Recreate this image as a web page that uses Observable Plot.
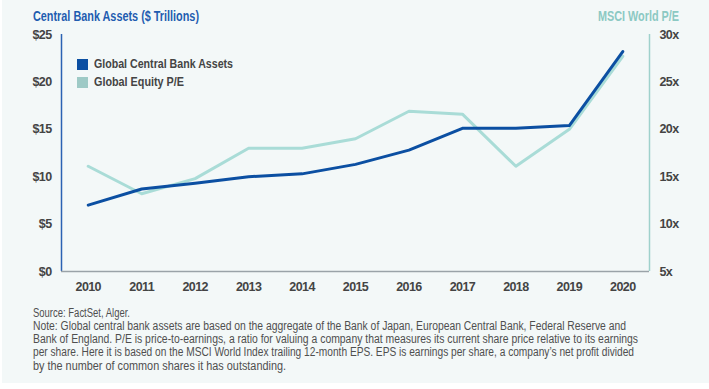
<!DOCTYPE html>
<html>
<head>
<meta charset="utf-8">
<script src="https://cdn.jsdelivr.net/npm/d3@7"></script>
<script src="https://cdn.jsdelivr.net/npm/@observablehq/plot@0.6"></script>
<style>
  html, body { margin: 0; padding: 0; background: #ffffff; }
  #wrap { position: relative; width: 707px; height: 383px; margin-left: 2px; background: #f3f8f8; overflow: hidden;
          font-family: "Liberation Sans", "Roboto", sans-serif; }
  #chart { position: absolute; left: -2px; top: 0; }
  .fit { position: absolute; white-space: nowrap; transform-origin: 0 50%; }
  .ttl { font-size: 14px; font-weight: bold; line-height: 17px; }
  .lg { font-size: 13.5px; font-weight: bold; color: #444; line-height: 16px; }
  .sw { position: absolute; width: 11px; height: 11px; }
  .cap { font-size: 12.5px; color: #4f4f4f; line-height: 14px; }
</style>
</head>
<body>
<div id="wrap">
  <div id="chart"></div>
</div>
<script>
const years = [2010, 2011, 2012, 2013, 2014, 2015, 2016, 2017, 2018, 2019, 2020];
const assets = [7.0, 8.7, 9.3, 10.0, 10.3, 11.3, 12.8, 15.1, 15.1, 15.4, 23.2];
const pe = [16.1, 13.2, 14.8, 18.0, 18.0, 19.0, 21.9, 21.6, 16.1, 20.0, 27.7];
const leftTicks = [0, 5, 10, 15, 20, 25];
const rightTicks = [5, 10, 15, 20, 25, 30];
const seriesNames = ["Global Central Bank Assets", "Global Equity P/E"];
const seriesColors = ["#0b4fa2", "#a9dcd7"];
const swatchColors = ["#0b4fa2", "#9ecac6"];
const leftTitle = "Central Bank Assets ($ Trillions)";
const rightTitle = "MSCI World P/E";
const captionLines = [
  "Source: FactSet, Alger.",
  "Note: Global central bank assets are based on the aggregate of the Bank of Japan, European Central Bank, Federal Reserve and",
  "Bank of England. P/E is price-to-earnings, a ratio for valuing a company that measures its current share price relative to its earnings",
  "per share. Here it is based on the MSCI World Index trailing 12-month EPS. EPS is earnings per share, a company\u2019s net profit divided",
  "by the number of common shares it has outstanding."
];

const peOffset = 5; // right axis: 5x..30x aligned with $0..$25
const assetRows = years.map((y, i) => ({year: y, v: assets[i]}));
const peRows = years.map((y, i) => ({year: y, v: pe[i] - peOffset}));

const plot = Plot.plot({
  width: 709,
  height: 300,
  marginLeft: 61,
  marginRight: 60,
  marginTop: 34,
  marginBottom: 29,
  style: {background: "transparent", fontFamily: '"Liberation Sans", sans-serif', fontSize: "12.5px", fontWeight: "bold", color: "#444", letterSpacing: "-0.6px"},
  x: {domain: [2009.5, 2020.5], axis: null},
  y: {domain: [0, 25], axis: null},
  marks: [
    Plot.axisX({ticks: years, tickFormat: d => String(d), tickSize: 0, tickPadding: 11, label: null}),
    Plot.axisY({anchor: "left", ticks: leftTicks, tickFormat: d => "$" + d, tickSize: 0, tickPadding: 10, label: null}),
    Plot.axisY({anchor: "right", ticks: rightTicks.map(t => t - peOffset), tickFormat: d => (d + peOffset) + "x", tickSize: 0, tickPadding: 10, label: null}),
    Plot.ruleX([2009.5], {stroke: "#2b62b3", strokeWidth: 1.5}),
    Plot.ruleX([2020.5], {stroke: "#9fd1cc", strokeWidth: 1.5}),
    Plot.ruleY([0], {stroke: "#9aa3a8", strokeWidth: 1.5}),
    Plot.line(peRows, {x: "year", y: "v", stroke: seriesColors[1], strokeWidth: 3}),
    Plot.line(assetRows, {x: "year", y: "v", stroke: seriesColors[0], strokeWidth: 3})
  ]
});
document.getElementById("chart").appendChild(plot);

const wrap = document.getElementById("wrap");
// place text (page x coords; wrap is offset by 2px) and squeeze horizontally to the reference width
function addText(txt, cls, x0, x1, cy, color) {
  const d = document.createElement("div");
  d.className = "fit " + cls;
  d.textContent = txt;
  if (color) d.style.color = color;
  wrap.appendChild(d);
  const w = d.getBoundingClientRect().width;
  const h = d.getBoundingClientRect().height;
  const s = (x1 - x0) / w;
  d.style.left = (x0 - 2) + "px";
  d.style.top = (cy - h / 2) + "px";
  d.style.transform = "scaleX(" + s + ")";
  return d;
}
addText(leftTitle, "ttl", 33, 199, 16, "#1f5db0");
addText(rightTitle, "ttl", 598, 679, 16, "#8cc9c3");

const legendY = [64, 82];
seriesNames.forEach((n, i) => {
  const sw = document.createElement("div");
  sw.className = "sw";
  sw.style.background = swatchColors[i];
  sw.style.left = (77 - 2) + "px";
  sw.style.top = (legendY[i] - 5.5) + "px";
  wrap.appendChild(sw);
});
addText(seriesNames[0], "lg", 94, 233, legendY[0]);
addText(seriesNames[1], "lg", 94, 184, legendY[1]);

const capEnds = [130, 626, 638, 634, 286];
const capY = [312.5, 325.8, 339, 352.2, 365.5];
captionLines.forEach((l, i) => addText(l, "cap", 33, capEnds[i], capY[i]));
</script>
</body>
</html>
